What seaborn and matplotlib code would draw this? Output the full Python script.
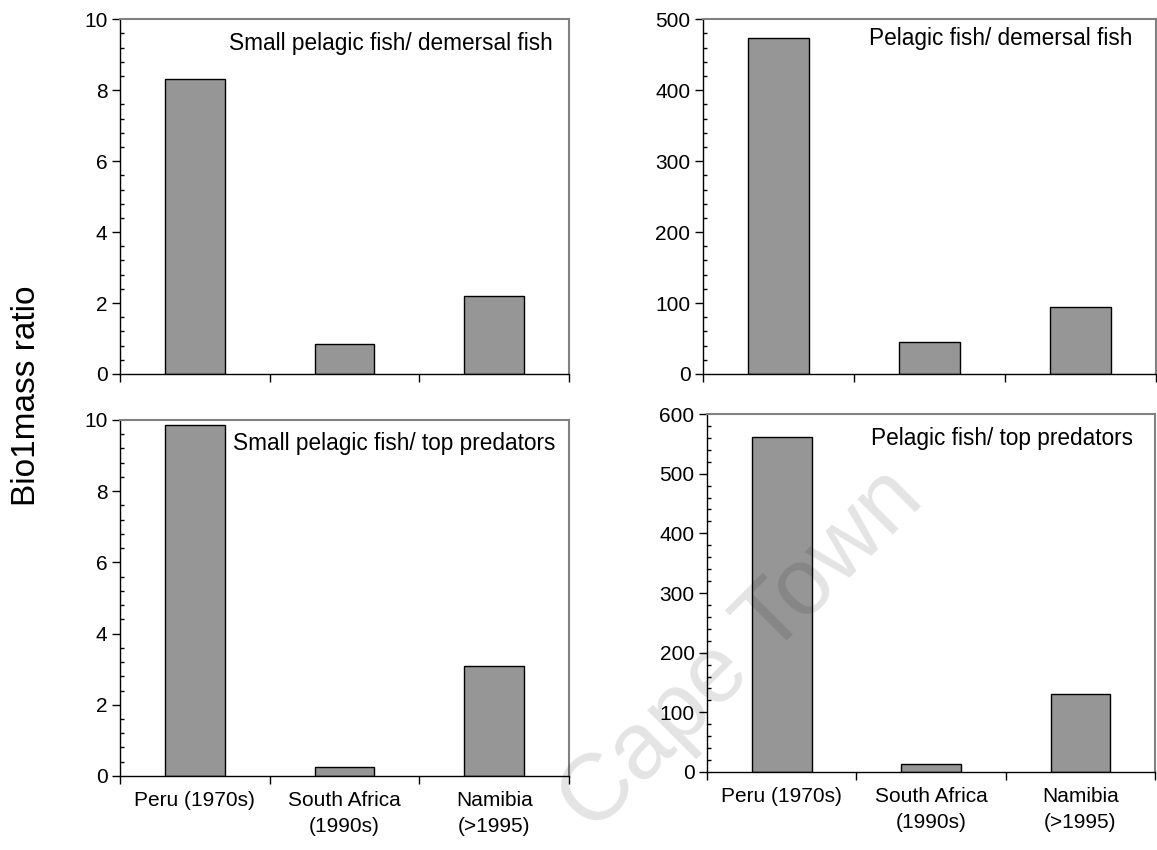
import numpy as np
import pandas as pd
import matplotlib
matplotlib.use("Agg")
import matplotlib.pyplot as plt
import seaborn as sns
from matplotlib.ticker import MultipleLocator, FixedLocator, FixedFormatter, NullFormatter

# Upwelling systems compared
regions = ["Peru (1970s)", "South Africa\n(1990s)", "Namibia\n(>1995)"]

# Biomass ratios per system
small_pelagic_demersal = [8.33, 0.85, 2.21]
pelagic_demersal = [474, 45.5, 94]
small_pelagic_top = [9.86, 0.25, 3.10]
pelagic_top = [562, 14, 130]

panel_titles = [
    "Small pelagic fish/ demersal fish",
    "Pelagic fish/ demersal fish",
    "Small pelagic fish/ top predators",
    "Pelagic fish/ top predators",
]
panel_values = [small_pelagic_demersal, pelagic_demersal, small_pelagic_top, pelagic_top]
y_max = [10, 500, 10, 600]
major_step = [2, 100, 2, 100]
minor_step = [0.4, 20, 0.4, 20]

sns.set_style("white")
plt.rcParams["font.family"] = ["Liberation Sans", "DejaVu Sans"]
plt.rcParams["text.color"] = "black"
plt.rcParams["axes.labelcolor"] = "black"
plt.rcParams["xtick.color"] = "black"
plt.rcParams["ytick.color"] = "black"

fig = plt.figure(figsize=(11.57, 8.5), dpi=100)

axes_rects = [
    [0.1037, 0.560, 0.3881, 0.4173],
    [0.6076, 0.560, 0.3915, 0.4173],
    [0.1037, 0.0871, 0.3881, 0.4188],
    [0.6111, 0.0918, 0.3872, 0.4211],
]
title_pos = [(0.964, 0.933), (0.949, 0.946), (0.969, 0.935), (0.951, 0.933)]

for i, rect in enumerate(axes_rects):
    ax = fig.add_axes(rect)
    df = pd.DataFrame({"region": regions, "ratio": panel_values[i]})
    sns.barplot(data=df, x="region", y="ratio", ax=ax, color="#969696",
                edgecolor="black", linewidth=1, width=0.4, saturation=1)
    ax.set_xlim(-0.5, 2.5)
    ax.set_ylim(0, y_max[i])
    ax.set_xlabel("")
    ax.set_ylabel("")

    # y axis: labelled major ticks outside, minor ticks inside
    ax.yaxis.set_major_locator(MultipleLocator(major_step[i]))
    ax.yaxis.set_minor_locator(MultipleLocator(minor_step[i]))
    ax.tick_params(axis="y", which="major", direction="out", length=6, width=1,
                   labelsize=15, pad=3, color="black", labelcolor="black", left=True)
    ax.tick_params(axis="y", which="minor", direction="in", length=3, width=1,
                   color="black", left=True)

    # x axis: tick marks between categories, labels at the bar centres
    ax.xaxis.set_major_locator(FixedLocator([-0.5, 0.5, 1.5, 2.5]))
    ax.xaxis.set_major_formatter(NullFormatter())
    ax.xaxis.set_minor_locator(FixedLocator([0, 1, 2]))
    if i >= 2:
        ax.xaxis.set_minor_formatter(FixedFormatter(regions))
    else:
        ax.xaxis.set_minor_formatter(NullFormatter())
    ax.tick_params(axis="x", which="major", direction="out", length=6, width=1,
                   color="black", bottom=True)
    ax.tick_params(axis="x", which="minor", length=0, pad=11, labelsize=15,
                   labelcolor="black", bottom=True)
    for lbl in ax.get_xticklabels(minor=True):
        lbl.set_linespacing(1.45)

    for side in ("left", "bottom"):
        ax.spines[side].set_color("black")
        ax.spines[side].set_linewidth(1)
    for side in ("top", "right"):
        ax.spines[side].set_color("#808080")
        ax.spines[side].set_linewidth(1.5)

    tx, ty = title_pos[i]
    ax.text(tx, ty, panel_titles[i], transform=ax.transAxes, ha="right",
            va="center", fontsize=16.3, color="black")

fig.text(0.023, 0.535, "Bio1mass ratio", rotation=90, ha="center", va="center",
         fontsize=24, color="black")

# faint diagonal watermark over the lower panels
fig.text(0.5125, 0.0177, "Cape Town", rotation=45, rotation_mode="anchor",
         ha="left", va="baseline", fontsize=68, color="black", alpha=0.11, zorder=10)

fig.savefig("out.png", dpi=100)
